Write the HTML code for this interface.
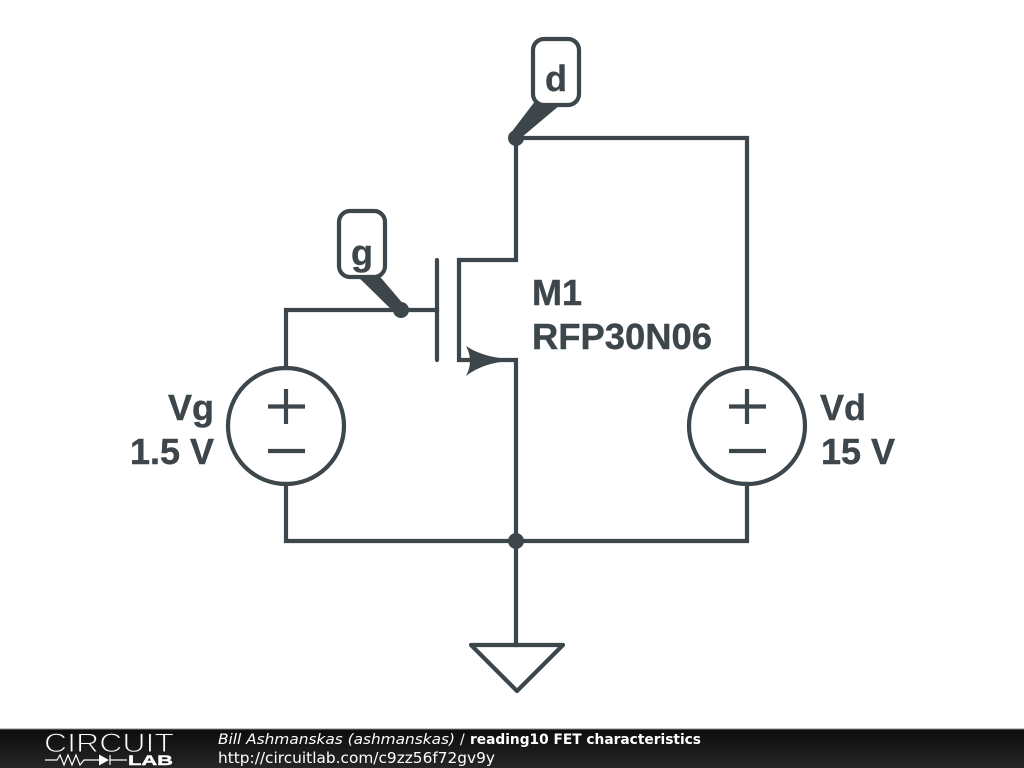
<!DOCTYPE html>
<html><head><meta charset="utf-8"><style>
html,body{margin:0;padding:0;background:#fff;width:1024px;height:768px;overflow:hidden}
svg{display:block}
</style></head><body>
<svg width="1024" height="768" viewBox="0 0 1024 768" xmlns="http://www.w3.org/2000/svg">
<defs><linearGradient id="b" x1="0" y1="0" x2="0" y2="1"><stop offset="0" stop-color="#0c0c0c"/><stop offset="1" stop-color="#262626"/></linearGradient></defs>
<rect width="1024" height="768" fill="#fff"/>
<g fill="none" stroke="#3d464b" stroke-width="4.2" stroke-linecap="square">
<path d="M516 138V260H459V360H516V541"/>
<path d="M516 138H747V368M747 484V541H286V484M286 368V310H437"/>
<path d="M516 541V645"/>
<path d="M471 645H563L517 691Z" stroke-linejoin="round" stroke-linecap="round"/>
<path d="M437 260V360" stroke-linecap="round"/>
<circle cx="286" cy="426" r="58"/>
<circle cx="747" cy="426" r="58"/>
<path d="M286 389V424M268 406.500H305M268 451H305M747 389V424M729 406.500H766M729 451H766" stroke-linecap="butt"/>
</g>
<g fill="#3d464b">
<circle cx="516" cy="138" r="8"/><circle cx="516" cy="541" r="8"/><circle cx="401" cy="310" r="8"/>
<path d="M510 134L536 100H566L522 137Z"/>
<path d="M353 272H376L405 306L394 312Z"/>
<path d="M466 346Q484 358 512 359V361Q484 362 466 376Q474 361 466 346Z"/>
</g>
<g fill="#fff" stroke="#3d464b" stroke-width="4.2">
<rect x="533" y="39" width="46" height="66" rx="11"/>
<rect x="339" y="211" width="46" height="66" rx="11"/>
</g>
<g font-family="'Liberation Sans',sans-serif" font-weight="700" font-size="36" fill="#3d464b" stroke="#3d464b" stroke-width=".4">
<text x="556" y="91" text-anchor="middle">d</text>
<text x="362" y="265" text-anchor="middle">g</text>
<text x="532" y="305">M1</text>
<text x="532" y="349" textLength="180" lengthAdjust="spacingAndGlyphs">RFP30N06</text>
<text x="214" y="420" text-anchor="end">Vg</text>
<text x="214" y="464" text-anchor="end">1.5 V</text>
<text x="820" y="420">Vd</text>
<text x="821" y="464">15 V</text>
</g>
<rect y="729" width="1024" height="39" fill="url(#b)"/>
<rect y="728.500" width="1024" height="1" fill="#8a8a8a"/>
<text x="44" y="752" font-family="'Liberation Sans',sans-serif" font-size="26.5" fill="#fff" stroke="#191919" stroke-width="1" textLength="130" lengthAdjust="spacingAndGlyphs">CIRCUIT</text>
<text x="128" y="765" font-family="'Liberation Sans',sans-serif" font-weight="700" font-size="14" fill="#fff" stroke="#fff" stroke-width=".4" textLength="45" lengthAdjust="spacingAndGlyphs">LAB</text>
<path d="M45 760H57L60 755L64 765L68 755L72 765L76 755L80 765L84 760H99M127 760H110M110 755V765" fill="none" stroke="#fff" stroke-width="1.2"/>
<path d="M99 754.500L109 760L99 765.500Z" fill="#fff"/>
<g font-family="'DejaVu Sans',sans-serif" fill="#fff">
<text x="218" y="744" font-size="14" font-style="italic" textLength="237" lengthAdjust="spacingAndGlyphs">Bill Ashmanskas (ashmanskas)</text>
<text x="460" y="744" font-size="14">/</text>
<text x="470" y="744" font-size="14" font-weight="700" textLength="231" lengthAdjust="spacingAndGlyphs">reading10 FET characteristics</text>
<text x="218" y="763" font-size="15" textLength="277" lengthAdjust="spacingAndGlyphs">http://circuitlab.com/c9zz56f72gv9y</text>
</g>
</svg>
</body></html>
